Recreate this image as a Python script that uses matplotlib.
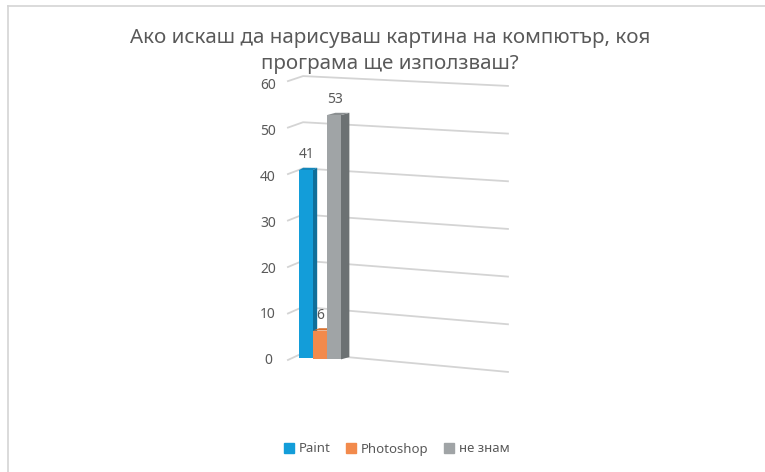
import matplotlib
matplotlib.use('Agg')
import matplotlib.pyplot as plt
from matplotlib.patches import Polygon, Patch, Rectangle
from matplotlib.lines import Line2D

# Chart data
title = 'Ако искаш да нарисуваш картина на компютър, коя\nпрограма ще използваш?'
categories = ['Paint', 'Photoshop', 'не знам']
values = [41, 6, 53]
yticks = [0, 10, 20, 30, 40, 50, 60]

# Shades for the fake 3D columns
front = ['#139dd9', '#f28a4c', '#a0a4a6']
side = ['#0f6f9a', '#c9632a', '#6c7173']
top = ['#1487bb', '#d9712f', '#8b8f91']
grid_c = '#d4d4d4'
text_c = '#595959'

plt.rcParams['font.family'] = ['Noto Sans', 'DejaVu Sans']

W, H = 765, 472
fig = plt.figure(figsize=(W / 100, H / 100), dpi=100)

# frame around the chart (only top and left edges are visible)
fig.add_artist(Line2D([8 / W, 1], [1 - 6 / H, 1 - 6 / H], color=grid_c, lw=1.2))
fig.add_artist(Line2D([8 / W, 8 / W], [0, 1 - 6 / H], color=grid_c, lw=1.2))

ax = fig.add_axes([250 / W, (H - 358) / H, 270 / W, 275 / H])
ax.set_xlim(-4.0, 15.29)
ax.set_ylim(0, 60)
ax.axis('off')

# perspective gridlines: left wall stub + back wall line
for v in yticks:
    ax.plot([-1.29, -0.21, 14.43],
            [-0.43 + 1.014 * v, 1.09 + 1.007 * v, -3.04 + 1.04 * v],
            color=grid_c, lw=1.3, clip_on=False, zorder=1)
    ax.text(-2.71, v - 0.6, str(v), ha='center', va='center',
            fontsize=10, color=text_c, clip_on=False)

# columns
for i, v in enumerate(values):
    x0, x1 = i - 0.5, i + 0.5
    y0 = -0.15 * i
    dx = 0.3 + 0.15 * i
    dy = 0.5
    z = 3 + i * 3
    ax.add_patch(Polygon([(x1, y0), (x1 + dx, y0 + dy), (x1 + dx, v + dy), (x1, v)],
                         closed=True, color=side[i], lw=0, zorder=z, clip_on=False))
    ax.add_patch(Polygon([(x0, v), (x0 + dx, v + dy), (x1 + dx, v + dy), (x1, v)],
                         closed=True, color=top[i], lw=0, zorder=z + 1, clip_on=False))
    ax.add_patch(Rectangle((x0, y0), 1, v - y0, color=front[i], lw=0,
                           zorder=z + 2, clip_on=False))
    ax.text(i + 0.05, v + 3.3, str(v), ha='center', va='center',
            fontsize=10, color=text_c, zorder=20, clip_on=False)

fig.text(390 / W, 1 - 51 / H, title, ha='center', va='center', fontsize=14.8,
         color=text_c, linespacing=1.42)

handles = [Patch(color=c, label=l) for c, l in zip(front, categories)]
fig.legend(handles=handles, ncol=3, loc='center', bbox_to_anchor=(397 / W, 1 - 449 / H),
           frameon=False, handlelength=0.7, handleheight=0.7, fontsize=9.5,
           columnspacing=1.2, handletextpad=0.4, labelcolor=text_c)

fig.savefig('out.png', dpi=100)
